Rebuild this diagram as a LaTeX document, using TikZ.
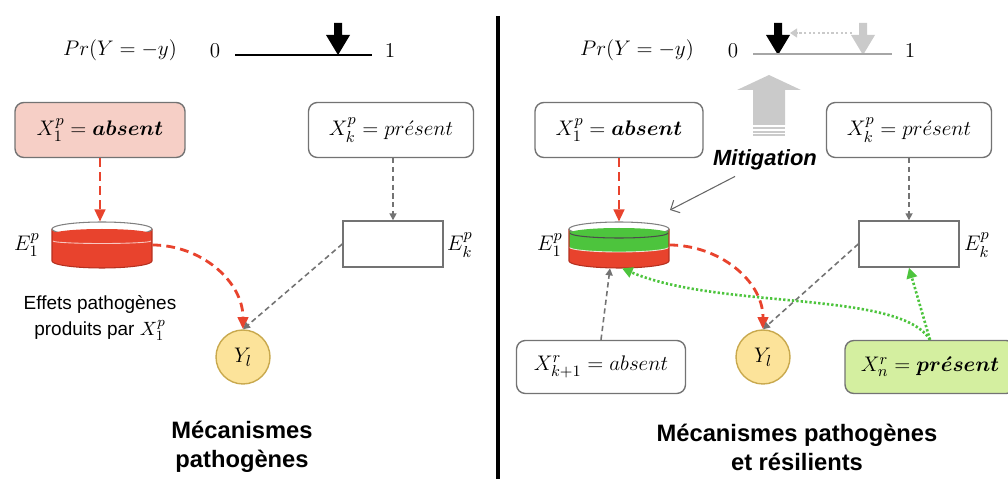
\documentclass[tikz,border=0pt]{standalone}
\usepackage{amsmath}
\usepackage{fontspec}
\setsansfont{Liberation Sans}
\usetikzlibrary{arrows.meta}
\definecolor{pathred}{HTML}{E8432D}
\definecolor{darkred}{HTML}{B5301F}
\definecolor{resgreen}{HTML}{4DC43D}
\definecolor{pinkbox}{HTML}{F6CFC6}
\definecolor{greenbox}{HTML}{D4EFA0}
\definecolor{ylfill}{HTML}{FCE39A}
\definecolor{ylline}{HTML}{C9A94E}
\definecolor{arrgray}{HTML}{CACACA}

\begin{document}
\begin{tikzpicture}[x=0.02cm,y=0.02cm,
    lbl/.style={font=\fontsize{12.5}{15}\selectfont},
    vbox/.style={lbl,draw=black!55,line width=0.8pt,rounded corners=5pt,minimum height=1.1cm},
    ebox/.style={draw=black!55,line width=0.8pt,minimum width=2cm,minimum height=0.92cm},
    dish/.style={minimum width=2cm,minimum height=0.92cm,inner sep=0pt},
    ynode/.style={lbl,circle,draw=ylline,fill=ylfill,line width=0.8pt,minimum size=1.08cm,inner sep=0pt},
    redarr/.style={pathred,line width=1.6pt,dash pattern=on 5pt off 3pt,-{Triangle[length=7pt,width=6pt]}},
    grayarr/.style={black!55,line width=0.9pt,dash pattern=on 3pt off 2pt,-{Triangle[length=4pt,width=4pt]}},
    greenarr/.style={resgreen,line width=1.5pt,dash pattern=on 1.3pt off 1.2pt,-{Triangle[length=6pt,width=6pt]}},
    titre/.style={font=\sffamily\bfseries\fontsize{13.5}{16.5}\selectfont,align=center}]
  \useasboundingbox (0,0) rectangle (1008,-479);

  % --- pathogenes seuls
  \node[lbl] (pr1) at (120,-50) {$Pr(Y=-y)$};
  \node[lbl] (zero1) at (215,-51) {$0$};
  \node[lbl] (one1) at (390,-51) {$1$};
  \draw[line width=0.7pt] (235,-55) -- (372,-55);
  \node[vbox,fill=pinkbox,minimum width=3.4cm] (X1) at (100,-130) {$X_1^p=\boldsymbol{absent}$};
  \node[vbox,minimum width=3.3cm] (Xk) at (391,-130) {$X_k^p=pr\acute{e}sent$};
  \node[dish] (E1) at (102,-245) {};
  \node[ebox] (Ek) at (393,-244) {};
  \node[lbl] (lE1) at (27,-245) {$E_1^p$};
  \node[lbl] (lEk) at (460,-245) {$E_k^p$};
  \node[ynode] (Yl) at (243,-357) {$Y_l$};
  \node[font=\sffamily\fontsize{10.8}{15}\selectfont,align=center] (eff) at (100,-318) {Effets pathogènes\\produits par $X_1^p$};
  \node[titre] (t1) at (242,-447) {Mécanismes\\pathogènes};

  \begin{scope}[shift={(E1.center)}]
    \fill[pathred] (0,-16) ellipse (1cm and 0.14cm);
    \fill[pathred] (-50,-16) rectangle (50,16);
    \draw[darkred,line width=0.6pt] (-50,16) -- (-50,-16) arc (180:360:1cm and 0.14cm) -- (50,16);
    \draw[black!50,fill=white,line width=0.6pt] (0,16) ellipse (1cm and 0.14cm);
    \fill[pathred] (0,11) ellipse (0.98cm and 0.1cm);
    \draw[white,opacity=.7,line width=0.5pt] (-49,4) arc (180:360:0.98cm and 0.05cm);
  \end{scope}

  \draw[redarr] (X1.south) -- (X1.south |- E1.north);
  \draw[redarr] (E1.east) to[out=0,in=90] (Yl.north);
  \draw[grayarr] (Xk.south -| Ek.north) -- (Ek.north);
  \draw[grayarr] (Ek.west) -- (Yl.north);

  \foreach \x/\c in {338/black,778/black,863/arrgray} {
    \fill[\c] (\x-4,-23) -- (\x+4,-23) -- (\x+4,-35) -- (\x+12,-35) -- (\x,-55) -- (\x-12,-35) -- (\x-4,-35) -- cycle;
  }

  \draw[line width=2.3pt] (498,-16) -- (498,-479);

  % --- pathogenes et resilients
  \node[lbl] (pr2) at (637,-50) {$Pr(Y=-y)$};
  \node[lbl] (zero2) at (733,-51) {$0$};
  \node[lbl] (one2) at (910,-51) {$1$};
  \draw[black!35,line width=0.8pt] (753,-54) -- (892,-54);
  \coordinate (m1) at (790,-33);
  \coordinate (m2) at (852,-33);
  \draw[arrgray,line width=1.3pt,dash pattern=on 1.3pt off 1.3pt,-{Triangle[length=4pt,width=5pt]}] (m2) -- (m1);

  \fill[arrgray] (753,-125) -- (753,-90) -- (737,-90) -- (769,-75) -- (801,-90) -- (785,-90) -- (785,-125) -- cycle;
  \fill[arrgray] (753,-127) rectangle (785,-129);
  \fill[arrgray] (753,-131) rectangle (785,-133);
  \fill[arrgray] (753,-134.5) rectangle (785,-136);

  \node[vbox,minimum width=3.36cm] (X1r) at (619,-130) {$X_1^p=\boldsymbol{absent}$};
  \node[vbox,minimum width=3.3cm] (Xkr) at (909,-130) {$X_k^p=pr\acute{e}sent$};
  \node[dish] (E1r) at (619,-245) {};
  \node[ebox] (Ekr) at (909,-244) {};
  \node[lbl] (lE1r) at (550,-245) {$E_1^p$};
  \node[lbl] (lEkr) at (977,-245) {$E_k^p$};
  \node[ynode] (Ylr) at (763,-357) {$Y_l$};
  \node[vbox,minimum width=3.38cm,minimum height=1.06cm] (Xk1) at (601,-367) {$X_{k+1}^r=absent$};
  \node[vbox,fill=greenbox,minimum width=3.4cm,minimum height=1.06cm] (Xn) at (930,-367) {$X_n^r=\boldsymbol{pr\acute{e}sent}$};
  \node[font=\sffamily\bfseries\itshape\fontsize{12.5}{15}\selectfont] (mit) at (765,-160) {Mitigation};
  \coordinate (mitend) at (670,-210);
  \node[titre] (t2) at (797,-447) {Mécanismes pathogènes\\et résilients};

  \begin{scope}[shift={(E1r.center)}]
    \fill[pathred] (0,-16) ellipse (1cm and 0.14cm);
    \fill[pathred] (-50,-16) rectangle (50,16);
    \fill[resgreen] (-50,16) -- (-50,-2) arc (180:360:1cm and 0.1cm) -- (50,16) -- cycle;
    \draw[white,opacity=.8,line width=0.5pt] (-50,-2) arc (180:360:1cm and 0.1cm);
    \draw[darkred,line width=0.6pt] (-50,16) -- (-50,-16) arc (180:360:1cm and 0.14cm) -- (50,16);
    \draw[black!50,fill=white,line width=0.6pt] (0,16) ellipse (1cm and 0.14cm);
    \fill[resgreen] (0,12) ellipse (0.98cm and 0.1cm);
    \draw[black!70,line width=0.6pt] (-49,12) arc (180:360:0.98cm and 0.1cm);
  \end{scope}

  \draw[black!60,line width=0.6pt,-{Straight Barb[length=4pt]}] ([xshift=-0.6cm]mit.south) -- (mitend);
  \draw[redarr] (X1r.south) -- (X1r.south |- E1r.north);
  \draw[redarr] (E1r.east) to[out=0,in=90] (Ylr.north);
  \draw[grayarr] (Xkr.south) -- (Ekr.north);
  \draw[grayarr] (Ekr.west) -- (Ylr.north);
  \draw[grayarr] (Xk1.north) -- ([xshift=-0.18cm]E1r.south);
  \draw[greenarr] (Xn.north) -- (Ekr.south);
  \draw[greenarr] (Xn.north) .. controls (900,-290) and (720,-310) .. ([xshift=0.06cm]E1r.south);
\end{tikzpicture}
\end{document}
